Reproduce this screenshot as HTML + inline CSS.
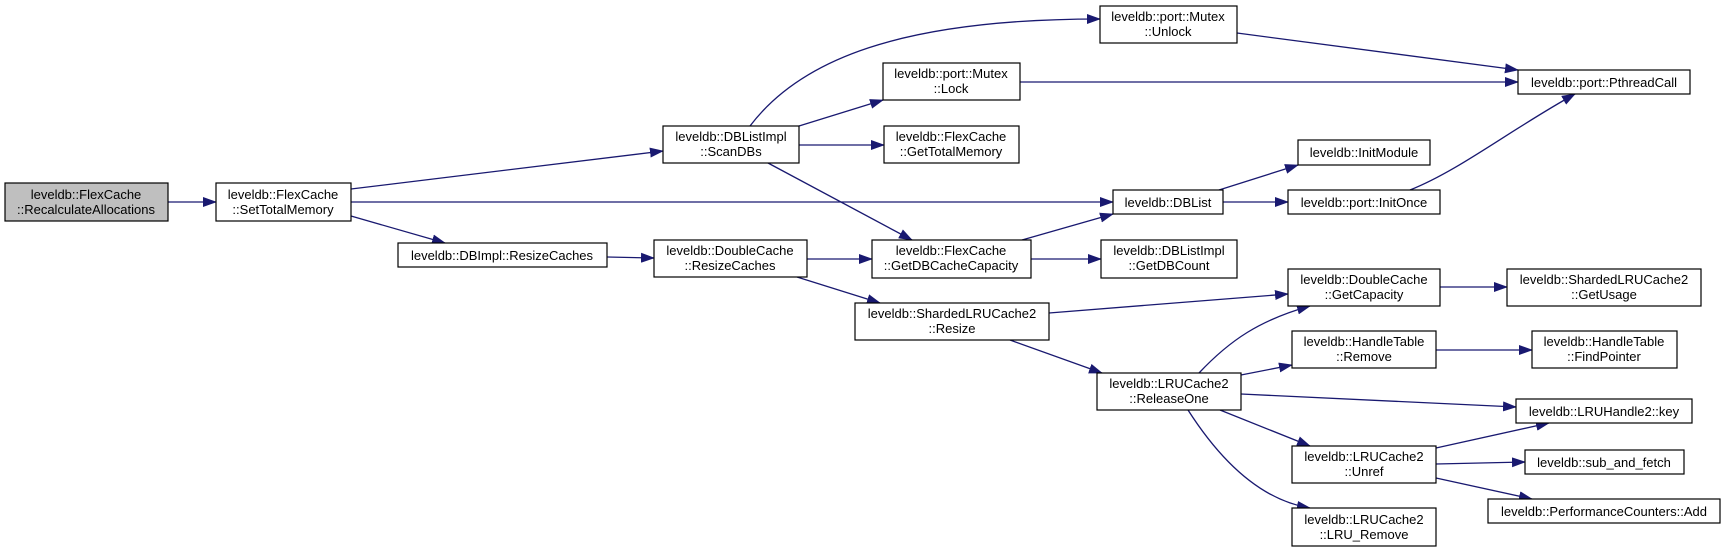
<!DOCTYPE html>
<html><head><meta charset="utf-8"><style>
html,body{margin:0;padding:0;background:#fff;}
svg{display:block;}
text{font-family:"Liberation Sans",sans-serif;font-size:13px;fill:#000;}
</style></head><body>
<svg width="1726" height="552" viewBox="0 0 1726 552" xmlns="http://www.w3.org/2000/svg">
<defs><marker id="a" markerWidth="14" markerHeight="10" refX="13" refY="5" orient="auto" markerUnits="userSpaceOnUse"><path d="M0,0 L14,5 L0,10 z" fill="#191970"/></marker></defs>
<g stroke="#191970" stroke-width="1.3" fill="none" marker-end="url(#a)">
<path d="M168,202 L216,202"/>
<path d="M351,189 L663,151"/>
<path d="M351,202 L1113,202"/>
<path d="M351,216 L445,243"/>
<path d="M750,126 C800,60 900,19 1100,19"/>
<path d="M799,126 L883,100"/>
<path d="M799,145 L884,145"/>
<path d="M768,163 L912,240"/>
<path d="M607,257 L654,258"/>
<path d="M807,259 L872,259"/>
<path d="M797,277 L880,303"/>
<path d="M1022,240 L1113,214"/>
<path d="M1031,259 L1101,259"/>
<path d="M1219,190 L1298,165"/>
<path d="M1223,202 L1288,202"/>
<path d="M1410,190 C1460,170 1510,130 1575,94"/>
<path d="M1237,33 L1518,70"/>
<path d="M1020,82 L1518,82"/>
<path d="M1049,313 L1288,294"/>
<path d="M1010,340 L1102,373"/>
<path d="M1440,287 L1507,287"/>
<path d="M1199,373 C1230,340 1260,320 1310,306"/>
<path d="M1241,375 L1292,365"/>
<path d="M1241,394 L1516,407"/>
<path d="M1220,410 L1310,446"/>
<path d="M1188,410 C1220,460 1260,500 1310,508"/>
<path d="M1436,350 L1532,350"/>
<path d="M1436,448 L1549,423"/>
<path d="M1436,464 L1525,462"/>
<path d="M1436,478 L1532,499"/>
</g>
<g stroke="#000" stroke-width="1.2" fill="#fff">
<rect x="5" y="183" width="163" height="38" fill="#bfbfbf"/>
<rect x="216" y="183" width="135" height="38"/>
<rect x="663" y="126" width="136" height="37"/>
<rect x="398" y="243" width="209" height="24"/>
<rect x="654" y="240" width="153" height="37"/>
<rect x="1100" y="6" width="137" height="37"/>
<rect x="883" y="63" width="137" height="37"/>
<rect x="884" y="126" width="135" height="37"/>
<rect x="1518" y="70" width="172" height="24"/>
<rect x="1298" y="140" width="132" height="25"/>
<rect x="1113" y="190" width="110" height="24"/>
<rect x="1288" y="190" width="152" height="24"/>
<rect x="872" y="240" width="159" height="38"/>
<rect x="1101" y="240" width="136" height="38"/>
<rect x="855" y="303" width="194" height="37"/>
<rect x="1288" y="269" width="152" height="37"/>
<rect x="1507" y="269" width="194" height="37"/>
<rect x="1292" y="331" width="144" height="37"/>
<rect x="1532" y="331" width="145" height="37"/>
<rect x="1097" y="373" width="144" height="37"/>
<rect x="1516" y="399" width="176" height="24"/>
<rect x="1292" y="446" width="144" height="37"/>
<rect x="1525" y="450" width="159" height="24"/>
<rect x="1488" y="499" width="232" height="24"/>
<rect x="1292" y="508" width="144" height="38"/>
</g>
<g text-anchor="middle">
<text x="86" y="199">leveldb::FlexCache</text><text x="86" y="214">::RecalculateAllocations</text>
<text x="283" y="199">leveldb::FlexCache</text><text x="283" y="214">::SetTotalMemory</text>
<text x="731" y="141">leveldb::DBListImpl</text><text x="731" y="156">::ScanDBs</text>
<text x="502" y="260">leveldb::DBImpl::ResizeCaches</text>
<text x="730" y="255">leveldb::DoubleCache</text><text x="730" y="270">::ResizeCaches</text>
<text x="1168" y="21">leveldb::port::Mutex</text><text x="1168" y="36">::Unlock</text>
<text x="951" y="78">leveldb::port::Mutex</text><text x="951" y="93">::Lock</text>
<text x="951" y="141">leveldb::FlexCache</text><text x="951" y="156">::GetTotalMemory</text>
<text x="1604" y="87">leveldb::port::PthreadCall</text>
<text x="1364" y="157">leveldb::InitModule</text>
<text x="1168" y="207">leveldb::DBList</text>
<text x="1364" y="207">leveldb::port::InitOnce</text>
<text x="951" y="255">leveldb::FlexCache</text><text x="951" y="270">::GetDBCacheCapacity</text>
<text x="1169" y="255">leveldb::DBListImpl</text><text x="1169" y="270">::GetDBCount</text>
<text x="952" y="318">leveldb::ShardedLRUCache2</text><text x="952" y="333">::Resize</text>
<text x="1364" y="284">leveldb::DoubleCache</text><text x="1364" y="299">::GetCapacity</text>
<text x="1604" y="284">leveldb::ShardedLRUCache2</text><text x="1604" y="299">::GetUsage</text>
<text x="1364" y="346">leveldb::HandleTable</text><text x="1364" y="361">::Remove</text>
<text x="1604" y="346">leveldb::HandleTable</text><text x="1604" y="361">::FindPointer</text>
<text x="1169" y="388">leveldb::LRUCache2</text><text x="1169" y="403">::ReleaseOne</text>
<text x="1604" y="416">leveldb::LRUHandle2::key</text>
<text x="1364" y="461">leveldb::LRUCache2</text><text x="1364" y="476">::Unref</text>
<text x="1604" y="467">leveldb::sub_and_fetch</text>
<text x="1604" y="516">leveldb::PerformanceCounters::Add</text>
<text x="1364" y="524">leveldb::LRUCache2</text><text x="1364" y="539">::LRU_Remove</text>
</g>
</svg>
</body></html>
